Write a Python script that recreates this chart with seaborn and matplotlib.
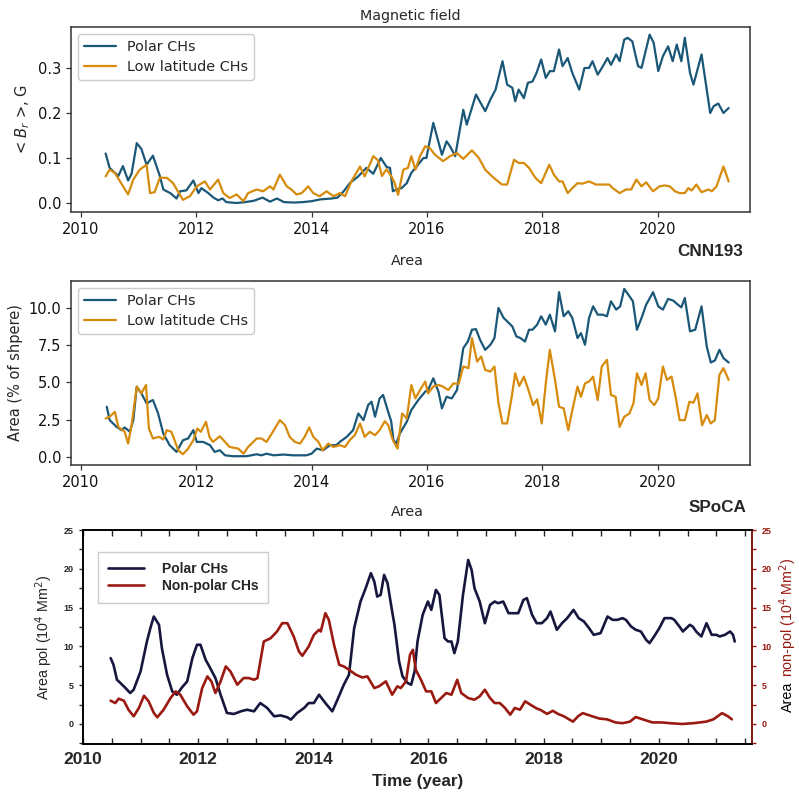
import matplotlib
matplotlib.use("Agg")
import matplotlib.pyplot as plt
from matplotlib.ticker import MultipleLocator
import seaborn as sns
import pandas as pd

# ---------------- data ----------------
# Panel 1: magnetic field <Br>, G
mag_polar_t = [2010.43, 2010.50, 2010.59, 2010.65, 2010.73, 2010.82, 2010.88, 2010.97, 2011.05, 2011.14,
               2011.25, 2011.37, 2011.43, 2011.55, 2011.66, 2011.72, 2011.83, 2011.95, 2012.04, 2012.09,
               2012.21, 2012.30, 2012.38, 2012.46, 2012.52, 2012.70, 2012.85, 2013.00, 2013.15, 2013.28,
               2013.40, 2013.52, 2013.70, 2013.85, 2014.00, 2014.15, 2014.35, 2014.45, 2014.55, 2014.67,
               2014.80, 2014.95, 2015.07, 2015.20, 2015.30, 2015.36, 2015.41, 2015.47, 2015.56, 2015.65,
               2015.73, 2015.82, 2015.94, 2015.99, 2016.11, 2016.26, 2016.34, 2016.40, 2016.49, 2016.63,
               2016.69, 2016.85, 2017.01, 2017.10, 2017.19, 2017.31, 2017.39, 2017.48, 2017.53, 2017.59,
               2017.68, 2017.75, 2017.83, 2017.90, 2017.98, 2018.06, 2018.13, 2018.20, 2018.29, 2018.35,
               2018.44, 2018.52, 2018.64, 2018.73, 2018.81, 2018.87, 2018.96, 2019.05, 2019.13, 2019.19,
               2019.28, 2019.34, 2019.42, 2019.48, 2019.56, 2019.66, 2019.72, 2019.86, 2019.93, 2020.01,
               2020.09, 2020.18, 2020.26, 2020.33, 2020.41, 2020.47, 2020.56, 2020.62, 2020.76, 2020.91,
               2020.97, 2021.05, 2021.14, 2021.23]
mag_polar_v = [0.110, 0.078, 0.067, 0.060, 0.082, 0.050, 0.065, 0.133, 0.120, 0.085,
               0.105, 0.060, 0.030, 0.022, 0.010, 0.026, 0.028, 0.050, 0.022, 0.033,
               0.022, 0.012, 0.006, 0.010, 0.002, 0.000, 0.002, 0.005, 0.012, 0.003,
               0.010, 0.002, 0.001, 0.002, 0.004, 0.008, 0.010, 0.012, 0.025, 0.045,
               0.058, 0.078, 0.065, 0.100, 0.080, 0.078, 0.026, 0.030, 0.033, 0.044,
               0.067, 0.081, 0.100, 0.100, 0.178, 0.107, 0.137, 0.126, 0.104, 0.207,
               0.174, 0.241, 0.204, 0.230, 0.252, 0.315, 0.263, 0.256, 0.226, 0.252,
               0.233, 0.267, 0.270, 0.289, 0.319, 0.278, 0.293, 0.293, 0.341, 0.304,
               0.322, 0.289, 0.252, 0.300, 0.300, 0.315, 0.285, 0.304, 0.322, 0.307,
               0.330, 0.315, 0.363, 0.367, 0.359, 0.304, 0.300, 0.374, 0.356, 0.293,
               0.326, 0.348, 0.315, 0.352, 0.315, 0.367, 0.289, 0.263, 0.330, 0.200,
               0.215, 0.221, 0.200, 0.211]

mag_low_t = [2010.43, 2010.50, 2010.59, 2010.68, 2010.82, 2010.91, 2011.02, 2011.14, 2011.20, 2011.28,
             2011.37, 2011.49, 2011.60, 2011.77, 2011.89, 2012.01, 2012.15, 2012.24, 2012.38, 2012.47,
             2012.58, 2012.70, 2012.82, 2012.90, 2013.05, 2013.16, 2013.28, 2013.34, 2013.45, 2013.57,
             2013.65, 2013.74, 2013.83, 2013.94, 2014.03, 2014.14, 2014.26, 2014.38, 2014.49, 2014.58,
             2014.69, 2014.84, 2014.92, 2015.07, 2015.15, 2015.22, 2015.30, 2015.38, 2015.44, 2015.50,
             2015.59, 2015.67, 2015.73, 2015.80, 2015.88, 2015.97, 2016.05, 2016.14, 2016.28, 2016.40,
             2016.52, 2016.63, 2016.78, 2016.90, 2017.01, 2017.13, 2017.30, 2017.39, 2017.51, 2017.59,
             2017.68, 2017.77, 2017.88, 2017.98, 2018.12, 2018.20, 2018.29, 2018.35, 2018.44, 2018.52,
             2018.61, 2018.70, 2018.81, 2018.93, 2019.05, 2019.16, 2019.22, 2019.34, 2019.45, 2019.54,
             2019.63, 2019.72, 2019.80, 2019.92, 2020.03, 2020.12, 2020.21, 2020.30, 2020.38, 2020.47,
             2020.53, 2020.59, 2020.67, 2020.76, 2020.88, 2020.94, 2021.02, 2021.14, 2021.23]
mag_low_v = [0.059, 0.074, 0.067, 0.048, 0.019, 0.052, 0.074, 0.085, 0.022, 0.024,
             0.056, 0.056, 0.044, 0.007, 0.015, 0.037, 0.048, 0.030, 0.052, 0.022,
             0.011, 0.019, 0.004, 0.022, 0.030, 0.026, 0.037, 0.030, 0.063, 0.037,
             0.030, 0.019, 0.022, 0.037, 0.022, 0.015, 0.026, 0.015, 0.022, 0.015,
             0.048, 0.081, 0.059, 0.104, 0.095, 0.060, 0.075, 0.060, 0.045, 0.018,
             0.074, 0.078, 0.104, 0.074, 0.104, 0.126, 0.122, 0.107, 0.093, 0.104,
             0.111, 0.098, 0.117, 0.100, 0.074, 0.059, 0.041, 0.041, 0.096, 0.089,
             0.089, 0.078, 0.056, 0.044, 0.085, 0.063, 0.048, 0.048, 0.022, 0.033,
             0.044, 0.043, 0.048, 0.041, 0.041, 0.041, 0.033, 0.022, 0.030, 0.030,
             0.052, 0.037, 0.046, 0.026, 0.037, 0.039, 0.037, 0.026, 0.022, 0.022,
             0.033, 0.028, 0.041, 0.024, 0.030, 0.026, 0.037, 0.081, 0.048]

# Panel 2: area (% of sphere), CNN193
area_polar_t = [2010.45, 2010.50, 2010.62, 2010.71, 2010.76, 2010.85, 2010.91, 2010.97, 2011.05, 2011.14,
                2011.25, 2011.34, 2011.43, 2011.54, 2011.66, 2011.77, 2011.86, 2011.95, 2012.01, 2012.12,
                2012.24, 2012.32, 2012.41, 2012.50, 2012.64, 2012.87, 2013.05, 2013.13, 2013.22, 2013.34,
                2013.51, 2013.68, 2013.91, 2014.00, 2014.09, 2014.20, 2014.32, 2014.43, 2014.49, 2014.61,
                2014.72, 2014.81, 2014.90, 2014.98, 2015.04, 2015.10, 2015.18, 2015.24, 2015.33, 2015.38,
                2015.42, 2015.47, 2015.53, 2015.65, 2015.73, 2015.85, 2015.97, 2016.02, 2016.11, 2016.20,
                2016.26, 2016.34, 2016.43, 2016.52, 2016.63, 2016.71, 2016.78, 2016.85, 2016.92, 2017.01,
                2017.10, 2017.17, 2017.24, 2017.33, 2017.42, 2017.48, 2017.55, 2017.62, 2017.70, 2017.77,
                2017.83, 2017.91, 2017.98, 2018.06, 2018.13, 2018.22, 2018.29, 2018.37, 2018.45, 2018.52,
                2018.61, 2018.67, 2018.74, 2018.81, 2018.88, 2018.96, 2019.05, 2019.12, 2019.19, 2019.28,
                2019.35, 2019.42, 2019.51, 2019.57, 2019.64, 2019.72, 2019.80, 2019.92, 2020.01, 2020.09,
                2020.18, 2020.27, 2020.35, 2020.41, 2020.47, 2020.56, 2020.65, 2020.76, 2020.85, 2020.92,
                2020.99, 2021.07, 2021.14, 2021.23]
area_polar_v = [3.37, 2.47, 2.02, 1.80, 1.98, 1.69, 2.47, 4.72, 4.27, 3.60,
                3.82, 2.92, 1.57, 0.79, 0.34, 1.12, 1.24, 1.80, 1.01, 1.01,
                0.79, 0.34, 0.45, 0.11, 0.05, 0.05, 0.18, 0.11, 0.22, 0.11,
                0.16, 0.11, 0.11, 0.22, 0.56, 0.45, 0.79, 0.79, 1.01, 1.35,
                1.80, 2.92, 2.47, 3.48, 3.71, 2.70, 3.93, 4.16, 3.00, 2.40,
                1.12, 0.90, 1.57, 2.36, 3.15, 3.82, 4.38, 4.49, 5.28, 4.38,
                3.26, 4.04, 3.93, 4.49, 7.30, 7.75, 8.54, 8.58, 7.87, 7.19,
                7.53, 7.98, 10.00, 9.33, 8.99, 8.76, 8.09, 7.98, 7.75, 8.54,
                8.54, 8.88, 9.44, 8.88, 9.55, 8.43, 11.06, 9.44, 9.78, 9.33,
                7.98, 8.31, 7.53, 9.33, 10.11, 9.55, 9.55, 9.44, 10.45, 9.89,
                10.11, 11.28, 10.79, 10.45, 8.54, 9.33, 10.22, 11.06, 10.11, 9.89,
                10.61, 10.49, 10.22, 10.04, 10.67, 8.43, 8.54, 10.11, 7.42, 6.34,
                6.47, 7.19, 6.63, 6.34]

area_low_t = [2010.43, 2010.50, 2010.59, 2010.65, 2010.76, 2010.82, 2010.88, 2010.97, 2011.05, 2011.13,
              2011.18, 2011.25, 2011.36, 2011.43, 2011.49, 2011.57, 2011.69, 2011.77, 2011.86, 2011.95,
              2012.02, 2012.08, 2012.17, 2012.23, 2012.29, 2012.41, 2012.50, 2012.58, 2012.73, 2012.82,
              2012.90, 2013.05, 2013.13, 2013.22, 2013.31, 2013.45, 2013.54, 2013.62, 2013.71, 2013.80,
              2013.88, 2013.96, 2014.03, 2014.12, 2014.19, 2014.29, 2014.38, 2014.49, 2014.58, 2014.66,
              2014.75, 2014.84, 2014.92, 2015.01, 2015.10, 2015.18, 2015.27, 2015.33, 2015.41, 2015.49,
              2015.57, 2015.65, 2015.73, 2015.80, 2015.88, 2015.97, 2016.02, 2016.11, 2016.20, 2016.28,
              2016.37, 2016.46, 2016.55, 2016.63, 2016.72, 2016.78, 2016.87, 2016.94, 2017.01, 2017.10,
              2017.17, 2017.24, 2017.31, 2017.39, 2017.47, 2017.53, 2017.60, 2017.68, 2017.76, 2017.84,
              2017.91, 2017.99, 2018.06, 2018.13, 2018.22, 2018.29, 2018.37, 2018.45, 2018.52, 2018.61,
              2018.67, 2018.74, 2018.81, 2018.88, 2018.96, 2019.03, 2019.12, 2019.19, 2019.27, 2019.34,
              2019.42, 2019.51, 2019.58, 2019.64, 2019.72, 2019.79, 2019.86, 2019.94, 2020.01, 2020.09,
              2020.16, 2020.24, 2020.31, 2020.38, 2020.47, 2020.55, 2020.62, 2020.69, 2020.77, 2020.85,
              2020.92, 2020.99, 2021.07, 2021.14, 2021.23]
area_low_v = [2.58, 2.70, 3.03, 2.02, 1.69, 0.90, 2.13, 4.72, 4.27, 4.83,
              1.91, 1.24, 1.35, 1.17, 1.80, 1.69, 0.45, 0.18, 0.56, 1.12,
              1.91, 1.69, 2.36, 1.35, 1.01, 1.39, 1.01, 0.67, 0.56, 0.22,
              0.67, 1.24, 1.24, 1.01, 1.57, 2.47, 2.13, 1.35, 1.01, 0.90,
              1.35, 1.98, 1.35, 1.01, 0.45, 0.90, 0.67, 0.79, 0.67, 1.12,
              1.46, 2.25, 1.35, 1.69, 1.46, 1.80, 2.40, 2.13, 1.12, 0.56,
              2.92, 2.58, 4.83, 3.93, 4.49, 5.06, 4.27, 4.72, 4.83, 4.72,
              4.49, 4.94, 4.90, 6.07, 5.96, 7.98, 6.40, 6.74, 5.84, 5.73,
              6.07, 3.60, 2.25, 2.25, 4.04, 5.62, 4.76, 5.39, 4.49, 3.48,
              3.87, 2.25, 4.94, 7.19, 5.17, 3.37, 3.26, 1.80, 3.15, 4.72,
              4.04, 4.94, 5.06, 5.39, 3.82, 6.07, 6.52, 4.16, 4.04, 2.02,
              2.70, 2.92, 3.60, 5.62, 4.83, 5.62, 3.82, 3.48, 3.93, 6.07,
              5.17, 5.39, 4.04, 2.47, 2.47, 3.71, 3.64, 4.27, 2.13, 2.81,
              2.25, 2.47, 5.51, 5.96, 5.17]

# Panel 3: SPoCA area (10^4 Mm^2)
spoca_polar_t = [2010.48, 2010.53, 2010.59, 2010.71, 2010.82, 2010.88, 2011.00, 2011.11, 2011.17, 2011.23,
                 2011.32, 2011.37, 2011.46, 2011.55, 2011.63, 2011.72, 2011.81, 2011.90, 2011.98, 2012.04,
                 2012.13, 2012.21, 2012.30, 2012.39, 2012.50, 2012.62, 2012.74, 2012.85, 2012.97, 2013.08,
                 2013.20, 2013.32, 2013.43, 2013.55, 2013.61, 2013.72, 2013.84, 2013.92, 2014.01, 2014.10,
                 2014.21, 2014.33, 2014.42, 2014.53, 2014.62, 2014.71, 2014.82, 2014.91, 2015.00, 2015.06,
                 2015.11, 2015.17, 2015.23, 2015.29, 2015.37, 2015.41, 2015.49, 2015.55, 2015.64, 2015.70,
                 2015.76, 2015.81, 2015.90, 2015.99, 2016.05, 2016.13, 2016.19, 2016.28, 2016.34, 2016.40,
                 2016.45, 2016.51, 2016.60, 2016.69, 2016.75, 2016.80, 2016.89, 2016.98, 2017.07, 2017.15,
                 2017.21, 2017.30, 2017.39, 2017.48, 2017.56, 2017.65, 2017.71, 2017.80, 2017.88, 2017.97,
                 2018.06, 2018.12, 2018.17, 2018.23, 2018.32, 2018.41, 2018.52, 2018.61, 2018.70, 2018.79,
                 2018.87, 2018.99, 2019.11, 2019.20, 2019.28, 2019.37, 2019.43, 2019.52, 2019.60, 2019.69,
                 2019.78, 2019.84, 2019.92, 2020.01, 2020.10, 2020.22, 2020.27, 2020.36, 2020.42, 2020.54,
                 2020.59, 2020.65, 2020.74, 2020.83, 2020.92, 2021.00, 2021.06, 2021.15, 2021.24, 2021.29,
                 2021.32]
spoca_polar_v = [8.49, 7.63, 5.70, 4.85, 3.99, 4.42, 6.78, 10.63, 12.35, 13.85,
                 12.78, 9.78, 6.35, 4.20, 3.77, 4.72, 5.49, 8.49, 10.21, 10.21,
                 8.28, 7.20, 5.92, 3.77, 1.42, 1.29, 1.63, 1.84, 1.63, 2.70,
                 2.06, 0.99, 1.11, 0.86, 0.56, 1.42, 2.06, 2.70, 2.70, 3.77,
                 2.70, 1.63, 3.13, 5.06, 6.35, 12.35, 15.78, 17.50, 19.43, 18.35,
                 16.42, 16.64, 19.21, 18.14, 14.49, 12.78, 8.06, 6.13, 5.27, 5.06,
                 6.78, 10.63, 14.07, 15.78, 14.71, 17.28, 16.64, 11.06, 10.63, 10.63,
                 9.13, 10.63, 16.64, 21.14, 19.85, 17.50, 15.78, 12.99, 15.35, 15.78,
                 15.57, 15.78, 14.28, 14.28, 14.28, 15.99, 16.21, 14.07, 12.99, 12.99,
                 13.64, 14.49, 13.42, 12.14, 12.99, 13.64, 14.71, 13.64, 13.21, 12.35,
                 11.49, 11.71, 13.85, 13.42, 13.42, 13.64, 13.42, 12.56, 12.14, 11.92,
                 10.85, 10.42, 11.28, 12.35, 13.64, 13.64, 13.42, 12.56, 11.92, 12.78,
                 12.56, 11.92, 11.28, 12.99, 11.49, 11.49, 11.28, 11.49, 11.92, 11.49,
                 10.63]

spoca_nonpolar_t = [2010.48, 2010.56, 2010.62, 2010.71, 2010.79, 2010.88, 2010.97, 2011.06, 2011.14, 2011.23,
                    2011.29, 2011.40, 2011.52, 2011.61, 2011.69, 2011.81, 2011.92, 2011.98, 2012.07, 2012.16,
                    2012.23, 2012.30, 2012.39, 2012.48, 2012.56, 2012.68, 2012.79, 2012.88, 2012.97, 2013.03,
                    2013.14, 2013.26, 2013.37, 2013.46, 2013.55, 2013.66, 2013.75, 2013.81, 2013.92, 2014.01,
                    2014.10, 2014.13, 2014.21, 2014.27, 2014.36, 2014.45, 2014.53, 2014.62, 2014.74, 2014.85,
                    2014.94, 2015.06, 2015.14, 2015.26, 2015.37, 2015.46, 2015.52, 2015.61, 2015.68, 2015.73,
                    2015.78, 2015.87, 2015.96, 2016.05, 2016.13, 2016.22, 2016.31, 2016.40, 2016.50, 2016.57,
                    2016.69, 2016.80, 2016.89, 2016.98, 2017.07, 2017.15, 2017.24, 2017.33, 2017.42, 2017.50,
                    2017.59, 2017.68, 2017.77, 2017.88, 2017.95, 2018.06, 2018.16, 2018.25, 2018.35, 2018.51,
                    2018.60, 2018.68, 2018.80, 2018.97, 2019.10, 2019.25, 2019.37, 2019.50, 2019.60, 2019.72,
                    2019.89, 2020.05, 2020.20, 2020.40, 2020.60, 2020.82, 2020.95, 2021.10, 2021.20, 2021.27]
spoca_nonpolar_v = [3.00, 2.70, 3.26, 3.00, 1.84, 0.99, 2.06, 3.64, 2.92, 1.42,
                    0.86, 1.84, 3.34, 4.20, 3.77, 2.27, 1.20, 1.63, 4.63, 6.13,
                    5.49, 3.99, 5.49, 7.42, 6.78, 5.06, 5.92, 5.92, 5.70, 5.92,
                    10.63, 11.06, 11.92, 12.99, 12.99, 11.28, 9.35, 8.79, 9.99, 11.49,
                    12.14, 11.92, 14.28, 13.42, 10.21, 7.63, 7.42, 6.99, 6.35, 6.00,
                    6.13, 4.63, 4.85, 5.49, 3.77, 4.85, 4.63, 5.49, 8.92, 9.56,
                    6.99, 5.70, 4.20, 4.20, 2.70, 3.34, 3.99, 3.77, 5.70, 3.99,
                    3.34, 3.13, 3.56, 4.42, 3.34, 2.70, 2.70, 2.06, 1.20, 2.06,
                    1.84, 2.92, 2.49, 2.00, 1.80, 1.30, 1.70, 1.30, 1.00, 0.30,
                    1.00, 1.40, 1.10, 0.70, 0.60, 0.20, 0.10, 0.30, 0.90, 0.60,
                    0.20, 0.20, 0.10, 0.00, 0.10, 0.30, 0.60, 1.40, 1.00, 0.60]

# ---------------- styling ----------------
sns.set_style("ticks")
plt.rcParams["font.family"] = ["DejaVu Sans"]

C_POLAR = "#1b5878"
C_LOW = "#d68b0c"
C_NAVY = "#16163f"
C_RED = "#9a1a12"
ARIAL = ["Liberation Sans", "DejaVu Sans"]

W, H = 799, 795
fig = plt.figure(figsize=(W / 100, H / 100), dpi=100)


def ax_rect(l, t, r, b):
    return [l / W, 1 - b / H, (r - l) / W, (b - t) / H]


ax1 = fig.add_axes(ax_rect(71, 27, 750, 212))
ax2 = fig.add_axes(ax_rect(71, 281, 750, 465))
ax3 = fig.add_axes(ax_rect(83, 530, 752, 744))

df1a = pd.DataFrame({"t": mag_polar_t, "v": mag_polar_v})
df1b = pd.DataFrame({"t": mag_low_t, "v": mag_low_v})
df2a = pd.DataFrame({"t": area_polar_t, "v": area_polar_v})
df2b = pd.DataFrame({"t": area_low_t, "v": area_low_v})
df3a = pd.DataFrame({"t": spoca_polar_t, "v": spoca_polar_v})
df3b = pd.DataFrame({"t": spoca_nonpolar_t, "v": spoca_nonpolar_v})

for ax, da, db, ylim, yticks, ylab in [
    (ax1, df1a, df1b, (-0.02, 0.391), [0.0, 0.1, 0.2, 0.3], r"< $B_r$ >, G"),
    (ax2, df2a, df2b, (-0.54, 11.81), [0.0, 2.5, 5.0, 7.5, 10.0], "Area (% of shpere)"),
]:
    sns.lineplot(data=da, x="t", y="v", ax=ax, color=C_POLAR, linewidth=1.6,
                 label="Polar CHs", estimator=None, sort=False)
    sns.lineplot(data=db, x="t", y="v", ax=ax, color=C_LOW, linewidth=1.6,
                 label="Low latitude CHs", estimator=None, sort=False)
    ax.set_xlim(2009.83, 2021.6)
    ax.set_ylim(*ylim)
    ax.set_xticks([2010, 2012, 2014, 2016, 2018, 2020])
    ax.set_yticks(yticks)
    ax.set_yticklabels([f"{v:.1f}" for v in yticks])
    ax.set_xlabel("")
    ax.set_ylabel(ylab, fontsize=10.5, labelpad=4)
    ax.tick_params(labelsize=10.5, length=3.5, width=0.9, color="#333333", labelcolor="#111111")
    for s in ax.spines.values():
        s.set_visible(True)
        s.set_color("#333333")
        s.set_linewidth(1.1)
    ax.legend(loc="upper left", fontsize=10.4, handlelength=2.2, borderaxespad=0.5,
              frameon=True, edgecolor="#cccccc", framealpha=1.0, labelspacing=0.4)

ax1.set_title("Magnetic field", fontsize=10.3, pad=5)
fig.text(407 / W, 1 - 261 / H, "Area", fontsize=10.3, ha="center", va="center")
fig.text(710 / W, 1 - 252 / H, "CNN193", fontsize=12.3, fontweight="bold",
         family=ARIAL, ha="center", va="center")

# ---- bottom panel (SPoCA) ----
ax3r = ax3.twinx()
ax3r.set_position(ax3.get_position())
sns.lineplot(data=df3a, x="t", y="v", ax=ax3, color=C_NAVY, linewidth=1.9,
             label="Polar CHs", estimator=None, sort=False, legend=False)
sns.lineplot(data=df3b, x="t", y="v", ax=ax3r, color=C_RED, linewidth=1.9,
             label="Non-polar CHs", estimator=None, sort=False, legend=False)
for a in (ax3, ax3r):
    a.set_xlim(2010.0, 2021.62)
    a.set_ylim(-2.58, 25)
    a.set_yticks([0, 5, 10, 15, 20, 25])
    a.yaxis.set_minor_locator(MultipleLocator(2.5))
ax3.set_xticks([2010, 2012, 2014, 2016, 2018, 2020])
ax3.xaxis.set_minor_locator(MultipleLocator(0.5))
ax3.tick_params(axis="x", which="both", direction="in", top=True, bottom=True,
                length=4, width=1.0, labelsize=12.5, pad=6)
ax3.tick_params(axis="y", which="both", direction="out", length=3, width=1.0,
                labelsize=6.5, pad=4)
ax3r.tick_params(axis="y", which="both", direction="out", length=3, width=1.0,
                 labelsize=6.5, colors=C_RED, pad=4)
for lab in ax3.get_xticklabels() + ax3.get_yticklabels() + ax3r.get_yticklabels():
    lab.set_fontfamily(ARIAL)
    lab.set_fontweight("bold")
for s in ax3.spines.values():
    s.set_color("black")
    s.set_linewidth(1.2)
for k, s in ax3r.spines.items():
    s.set_linewidth(1.2)
    s.set_color(C_RED if k == "right" else "black")
ax3.set_xlabel("Time (year)", fontsize=12.3, fontweight="bold", family=ARIAL, labelpad=5)
ax3.set_ylabel("Area pol (10$^4$ Mm$^2$)", fontsize=10.3, family=ARIAL, labelpad=6)
ax3r.set_ylabel("")

t1 = ax3r.text(1.054, 0.15, "Area", transform=ax3r.transAxes, rotation=90,
               ha="center", va="bottom", fontsize=10.3, family=ARIAL, color="black")
ax3r.annotate("non-pol (10$^4$ Mm$^2$)", xy=(0.5, 1.0), xycoords=t1,
              xytext=(0, 3), textcoords="offset points", rotation=90,
              ha="center", va="bottom", fontsize=10.3, family=ARIAL, color=C_RED)

h1, l1 = ax3.get_legend_handles_labels()
h2, l2 = ax3r.get_legend_handles_labels()
leg = ax3r.legend(h1 + h2, l1 + l2, loc="upper left", bbox_to_anchor=(0.012, 0.93),
                  prop={"family": ARIAL, "weight": "bold", "size": 10},
                  handlelength=2.6, frameon=True, fancybox=False,
                  edgecolor="#cccccc", framealpha=1.0, borderpad=0.7, labelspacing=0.25,
                  handletextpad=1.3)

fig.text(407 / W, 1 - 512 / H, "Area", fontsize=10.3, ha="center", va="center")
fig.text(717 / W, 1 - 507 / H, "SPoCA", fontsize=12.3, fontweight="bold",
         family=ARIAL, ha="center", va="center")

fig.savefig("out.png", dpi=100)
